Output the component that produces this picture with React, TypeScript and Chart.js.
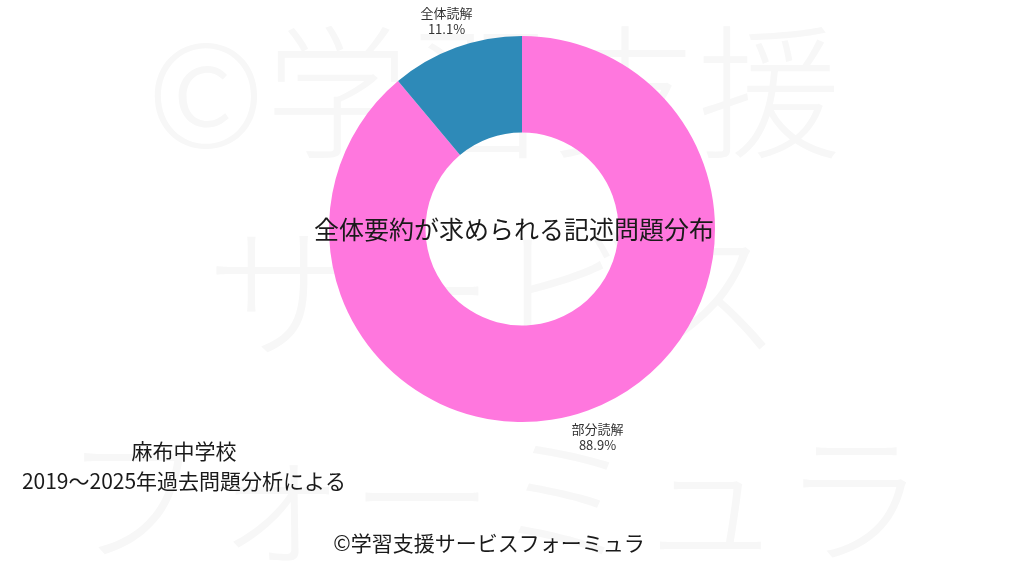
import { useEffect, useRef } from "react";
import { Chart, registerables } from "chart.js";

Chart.register(...registerables);

const categories = ["部分読解", "全体読解"];
const shares = [88.9, 11.1];
const sliceColors = ["#ff77de", "#2e8ab8"];
const chartTitle = "全体要約が求められる記述問題分布";
const noteLines = ["麻布中学校", "2019～2025年過去問題分析による"];
const footerText = "©学習支援サービスフォーミュラ";
const watermarkLines = ["©学習支援", "サービス", "フォーミュラ"];

const FONT = "'Noto Sans CJK JP', 'Noto Sans', sans-serif";

const decorPlugin = {
  id: "decor",
  beforeDraw(chart: any) {
    const ctx = chart.ctx as CanvasRenderingContext2D;
    ctx.save();
    ctx.fillStyle = "#ffffff";
    ctx.fillRect(0, 0, chart.width, chart.height);
    ctx.fillStyle = "#f7f7f7";
    ctx.font = `300 144px ${FONT}`;
    ctx.textAlign = "center";
    ctx.textBaseline = "middle";
    const ys = [92, 292, 498];
    watermarkLines.forEach((line, i) => {
      ctx.fillText(line, 494, ys[i]);
    });
    ctx.restore();
  },
  afterDraw(chart: any) {
    const ctx = chart.ctx as CanvasRenderingContext2D;
    const meta = chart.getDatasetMeta(0);
    ctx.save();
    ctx.textAlign = "center";
    ctx.textBaseline = "middle";
    // slice labels
    ctx.font = `13px ${FONT}`;
    ctx.fillStyle = "#333333";
    meta.data.forEach((arc: any, i: number) => {
      const p = arc.getProps(["x", "y", "startAngle", "endAngle", "outerRadius"], true);
      const mid = (p.startAngle + p.endAngle) / 2;
      const r = p.outerRadius * 1.145;
      const cx = p.x + Math.cos(mid) * r;
      const cy = p.y + Math.sin(mid) * r;
      ctx.fillText(categories[i], cx, cy - 8);
      ctx.fillText(shares[i].toFixed(1) + "%", cx, cy + 8);
    });
    // center title
    ctx.fillStyle = "#1a1a1a";
    ctx.font = `25px ${FONT}`;
    ctx.fillText(chartTitle, 514, 229);
    // notes
    ctx.font = `21px ${FONT}`;
    ctx.fillStyle = "#1a1a1a";
    ctx.fillText(noteLines[0], 184, 451);
    ctx.fillText(noteLines[1], 184, 481);
    // footer
    ctx.font = `21px ${FONT}`;
    ctx.fillText(footerText, 489, 543);
    ctx.restore();
  },
};

export default function App() {
  const ref = useRef<HTMLCanvasElement | null>(null);
  useEffect(() => {
    if (!ref.current) return;
    const chart = new Chart(ref.current, {
      type: "doughnut",
      data: {
        labels: categories,
        datasets: [
          {
            data: shares,
            backgroundColor: sliceColors,
            borderWidth: 0,
            hoverOffset: 0,
          },
        ],
      },
      options: {
        responsive: false,
        animation: false,
        devicePixelRatio: 1,
        cutout: "50%",
        rotation: 0,
        layout: { padding: { top: 36, bottom: 154, left: 20, right: 0 } },
        plugins: {
          legend: { display: false },
          title: { display: false },
          tooltip: { enabled: false },
        },
      },
      plugins: [decorPlugin],
    });
    return () => chart.destroy();
  }, []);
  return (
    <div style={{ position: "absolute", left: 0, top: 0, width: 1024, height: 576 }}>
      <canvas ref={ref} width={1024} height={576} style={{ display: "block", width: 1024, height: 576 }} />
    </div>
  );
}
